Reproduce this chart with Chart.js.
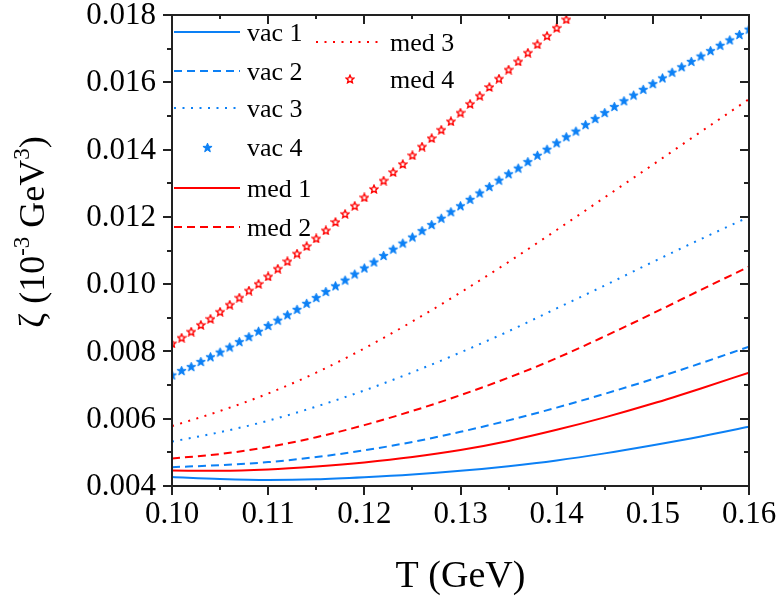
<!DOCTYPE html>
<html>
<head>
<meta charset="utf-8">
<script src="https://cdn.jsdelivr.net/npm/chart.js@4.4.0/dist/chart.umd.min.js"></script>
<style>
  html, body { margin: 0; padding: 0; background: #fff; }
</style>
</head>
<body>
<canvas id="chart" width="780" height="596"></canvas>
<script>
// ================= DATA =================
// temperature grid for the curves (GeV)
const T_LINE = [0.100, 0.105, 0.110, 0.115, 0.120, 0.125, 0.130, 0.135, 0.140, 0.145, 0.150, 0.155, 0.160];

const vac1 = [0.00427, 0.00421, 0.00418, 0.00420, 0.00426, 0.00434, 0.00445, 0.00459, 0.00476, 0.00497, 0.00521, 0.00547, 0.00576];
const vac2 = [0.00456, 0.00462, 0.00471, 0.00486, 0.00506, 0.00531, 0.00561, 0.00595, 0.00633, 0.00674, 0.00718, 0.00765, 0.00814];
const vac3 = [0.00532, 0.00560, 0.00594, 0.00636, 0.00684, 0.00738, 0.00797, 0.00860, 0.00928, 0.00996, 0.01066, 0.01134, 0.01200];
const med1 = [0.00446, 0.00445, 0.00449, 0.00458, 0.00470, 0.00486, 0.00507, 0.00534, 0.00567, 0.00604, 0.00645, 0.00690, 0.00737];
const med2 = [0.00482, 0.00495, 0.00516, 0.00545, 0.00581, 0.00623, 0.00670, 0.00722, 0.00780, 0.00845, 0.00913, 0.00983, 0.01052];
const med3 = [0.00578, 0.00623, 0.00675, 0.00737, 0.00809, 0.00889, 0.00975, 0.01066, 0.01161, 0.01258, 0.01355, 0.01453, 0.01550];

// temperature grid for the star symbols (GeV)
const T_STAR = [
  0.100, 0.101, 0.102, 0.103, 0.104, 0.105, 0.106, 0.107, 0.108, 0.109,
  0.110, 0.111, 0.112, 0.113, 0.114, 0.115, 0.116, 0.117, 0.118, 0.119,
  0.120, 0.121, 0.122, 0.123, 0.124, 0.125, 0.126, 0.127, 0.128, 0.129,
  0.130, 0.131, 0.132, 0.133, 0.134, 0.135, 0.136, 0.137, 0.138, 0.139,
  0.140, 0.141, 0.142, 0.143, 0.144, 0.145, 0.146, 0.147, 0.148, 0.149,
  0.150, 0.151, 0.152, 0.153, 0.154, 0.155, 0.156, 0.157, 0.158, 0.159,
  0.160
];

const vac4 = [
  0.00730, 0.00743, 0.00755, 0.00770, 0.00784, 0.00798, 0.00813, 0.00829, 0.00844, 0.00860,
  0.00877, 0.00893, 0.00909, 0.00925, 0.00943, 0.00960, 0.00978, 0.00995, 0.01012, 0.01030,
  0.01048, 0.01066, 0.01085, 0.01104, 0.01122, 0.01140, 0.01159, 0.01177, 0.01196, 0.01215,
  0.01233, 0.01252, 0.01271, 0.01290, 0.01309, 0.01328, 0.01345, 0.01364, 0.01383, 0.01401,
  0.01420, 0.01438, 0.01455, 0.01474, 0.01492, 0.01510, 0.01528, 0.01545, 0.01562, 0.01579,
  0.01596, 0.01613, 0.01630, 0.01646, 0.01662, 0.01678, 0.01694, 0.01710, 0.01726, 0.01742,
  0.01758
];

// med 4 runs off the top of the frame after T = 0.141
const med4 = [
  0.00824, 0.00841, 0.00859, 0.00879, 0.00897, 0.00918, 0.00939, 0.00960, 0.00981, 0.01001,
  0.01023, 0.01046, 0.01068, 0.01091, 0.01113, 0.01136, 0.01160, 0.01185, 0.01209, 0.01233,
  0.01258, 0.01283, 0.01308, 0.01333, 0.01357, 0.01383, 0.01409, 0.01434, 0.01459, 0.01484,
  0.01510, 0.01536, 0.01560, 0.01586, 0.01611, 0.01638, 0.01662, 0.01688, 0.01713, 0.01738,
  0.01762, 0.01787
];

const X_MIN = 0.10, X_MAX = 0.16, X_STEP = 0.01;
const Y_MIN = 0.004, Y_MAX = 0.018, Y_STEP = 0.002;

// ================= STYLE =================
const BLUE = "#0c80f5";
const RED = "#ff0000";
const SERIF = "'Liberation Serif', 'Times New Roman', serif";

function makeStar(size, fill, stroke, lw, inner) {
  const c = document.createElement("canvas");
  c.width = size; c.height = size;
  const g = c.getContext("2d");
  const cx = size / 2, cy = size / 2 + 0.4;
  const R = size / 2 - lw / 2 - 0.2, r = R * inner;
  g.beginPath();
  for (let i = 0; i < 10; i++) {
    const a = -Math.PI / 2 + i * Math.PI / 5;
    const rad = i % 2 ? r : R;
    g.lineTo(cx + rad * Math.cos(a), cy + rad * Math.sin(a));
  }
  g.closePath();
  g.fillStyle = fill;
  g.fill();
  g.lineWidth = lw;
  g.strokeStyle = stroke;
  g.stroke();
  return c;
}

const blueStar = makeStar(11, BLUE, BLUE, 1, 0.42);
const redStar = makeStar(10, "#fff", RED, 1.4, 0.47);

function pts(xs, ys) {
  return ys.map((y, i) => ({ x: xs[i], y: y }));
}

function lineSet(label, ys, color, dash) {
  return {
    label: label,
    data: pts(T_LINE, ys),
    showLine: true,
    borderColor: color,
    backgroundColor: color,
    borderWidth: 2,
    borderDash: dash,
    pointRadius: 0,
    cubicInterpolationMode: "monotone",
    fill: false
  };
}

function starSet(label, ys, img) {
  return {
    label: label,
    data: pts(T_STAR, ys),
    showLine: false,
    pointStyle: img,
    pointRadius: 6,
    borderColor: img === blueStar ? BLUE : RED,
    backgroundColor: img === blueStar ? BLUE : "#fff"
  };
}

const datasets = [
  lineSet("vac 1", vac1, BLUE, []),
  lineSet("vac 2", vac2, BLUE, [8, 5]),
  lineSet("vac 3", vac3, BLUE, [2, 6.5]),
  starSet("vac 4", vac4, blueStar),
  lineSet("med 1", med1, RED, []),
  lineSet("med 2", med2, RED, [8, 5]),
  lineSet("med 3", med3, RED, [2, 6.5]),
  starSet("med 4", med4, redStar)
];

// legend slots: [sample x0, sample x1, y, text x]
const legendSlots = [
  [174, 240, 32, 247],
  [174, 240, 71, 247],
  [174, 240, 108, 247],
  [174, 240, 147, 247],
  [174, 240, 188, 247],
  [174, 240, 227, 247],
  [316, 383, 42, 390],
  [316, 383, 79, 390]
];

// ================= PLUGINS =================
const framePlugin = {
  id: "frame",
  afterDatasetsDraw(chart) {
    const ctx = chart.ctx;
    const a = chart.chartArea;
    const xs = chart.scales.x, ys = chart.scales.y;
    ctx.save();
    ctx.strokeStyle = "#222";
    ctx.lineWidth = 2;
    ctx.setLineDash([]);
    ctx.strokeRect(a.left, a.top, a.right - a.left, a.bottom - a.top);

    ctx.beginPath();
    // x ticks: outward at bottom, inward at top
    for (let k = 0; k <= 12; k++) {
      const v = X_MIN + k * X_STEP / 2;
      const px = Math.round(xs.getPixelForValue(v));
      const len = k % 2 === 0 ? 9 : 4;
      ctx.moveTo(px, a.bottom); ctx.lineTo(px, a.bottom + len);
      ctx.moveTo(px, a.top); ctx.lineTo(px, a.top + len);
    }
    // y ticks: outward at left, inward at right
    for (let k = 0; k <= 14; k++) {
      const v = Y_MIN + k * Y_STEP / 2;
      const py = Math.round(ys.getPixelForValue(v));
      const len = k % 2 === 0 ? 9 : 5;
      ctx.moveTo(a.left, py); ctx.lineTo(a.left - len, py);
      ctx.moveTo(a.right, py); ctx.lineTo(a.right - len, py);
    }
    ctx.stroke();

    // tick labels
    ctx.fillStyle = "#000";
    ctx.font = "31px " + SERIF;
    ctx.textBaseline = "middle";
    ctx.textAlign = "center";
    xs.ticks.forEach(t => {
      ctx.fillText(t.value.toFixed(2), xs.getPixelForValue(t.value), 515);
    });
    ctx.textAlign = "right";
    ys.ticks.forEach(t => {
      ctx.fillText(t.value.toFixed(3), a.left - 16, ys.getPixelForValue(t.value) + 1);
    });
    ctx.restore();
  }
};

const legendPlugin = {
  id: "customLegend",
  afterDraw(chart) {
    const ctx = chart.ctx;
    ctx.save();
    ctx.font = "26px " + SERIF;
    ctx.fillStyle = "#000";
    ctx.textBaseline = "middle";
    chart.data.datasets.forEach((ds, i) => {
      const [x0, x1, y, tx] = legendSlots[i];
      if (ds.showLine === false) {
        const img = ds.pointStyle;
        ctx.drawImage(img, Math.round((x0 + x1) / 2 - img.width / 2), Math.round(y - img.height / 2));
      } else {
        ctx.beginPath();
        ctx.strokeStyle = ds.borderColor;
        ctx.lineWidth = ds.borderWidth;
        ctx.setLineDash(ds.borderDash || []);
        ctx.moveTo(x0, y);
        ctx.lineTo(x1, y);
        ctx.stroke();
        ctx.setLineDash([]);
      }
      ctx.fillText(ds.label, tx, y + 2);
    });
    ctx.restore();
  }
};

// y title pieces: text, font size, raise
const yTitleParts = [
  { t: "\u03B6 (10", s: 36, dy: 0 },
  { t: "-3", s: 23, dy: -15 },
  { t: " GeV", s: 36, dy: 0 },
  { t: "3", s: 23, dy: -15 },
  { t: ")", s: 36, dy: 0 }
];

const titlePlugin = {
  id: "titles",
  afterDraw(chart) {
    const ctx = chart.ctx;
    const a = chart.chartArea;
    ctx.save();
    ctx.fillStyle = "#000";
    ctx.textBaseline = "alphabetic";

    // x title
    ctx.font = "38px " + SERIF;
    ctx.textAlign = "center";
    ctx.fillText("T (GeV)", (a.left + a.right) / 2, 587);

    // y title with superscripts, rotated
    let total = 0;
    yTitleParts.forEach(p => {
      ctx.font = p.s + "px " + SERIF;
      p.w = ctx.measureText(p.t).width;
      total += p.w;
    });
    ctx.translate(44, 232);
    ctx.rotate(-Math.PI / 2);
    ctx.textAlign = "left";
    let cx = -total / 2;
    yTitleParts.forEach(p => {
      ctx.font = p.s + "px " + SERIF;
      ctx.fillText(p.t, cx, p.dy);
      cx += p.w;
    });
    ctx.restore();
  }
};

// ================= CHART =================
Chart.defaults.font.family = SERIF;

new Chart(document.getElementById("chart"), {
  type: "scatter",
  data: { datasets: datasets },
  options: {
    responsive: false,
    animation: false,
    devicePixelRatio: 1,
    layout: { padding: { left: 0, right: 31, top: 15, bottom: 0 } },
    plugins: {
      legend: { display: false },
      tooltip: { enabled: false }
    },
    scales: {
      x: {
        type: "linear",
        min: X_MIN,
        max: X_MAX,
        grid: { display: false, drawTicks: false },
        border: { display: false },
        ticks: { stepSize: X_STEP, display: false },
        afterFit: s => { s.height = 110; }
      },
      y: {
        type: "linear",
        min: Y_MIN,
        max: Y_MAX,
        grid: { display: false, drawTicks: false },
        border: { display: false },
        ticks: { stepSize: Y_STEP, display: false },
        afterFit: s => { s.width = 172; }
      }
    }
  },
  plugins: [framePlugin, legendPlugin, titlePlugin]
});
</script>
</body>
</html>
